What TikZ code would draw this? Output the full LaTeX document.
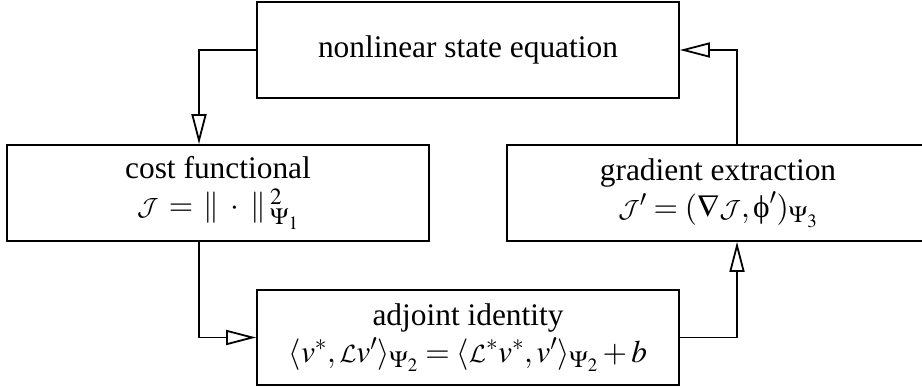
\documentclass[tikz,border=0pt]{standalone}
\usepackage{mathptmx}
\DeclareSymbolFont{cmcal}{OMS}{cmsy}{m}{n}
\DeclareSymbolFontAlphabet{\mathcal}{cmcal}
\usepackage[no-math]{fontspec}
\setmainfont{Liberation Serif}
\usetikzlibrary{arrows.meta}
\newcommand{\uphi}{\mbox{ϕ}}
\tikzset{
  box/.style={draw, line width=1.8pt, rectangle, minimum width=422pt, minimum height=96pt,
    align=center, inner sep=0pt, font=\fontsize{31.4}{37}\selectfont},
  conn/.style={line width=1.8pt, -{Triangle[open, length=30pt, width=15pt, line width=1.8pt]}}
}
\begin{document}
\begin{tikzpicture}[x=1pt,y=-1pt]
\useasboundingbox (0,0) rectangle (922,387);
\node[box] (top) at (468,50) {nonlinear state equation};
\node[box] (cost) at (218,193) {cost functional\\$\mathcal{J}\,=\,\|\;\cdot\;\|\,^2_{\Psi_1}$};
\node[box] (grad) at (718,193) {gradient extraction\\$\mathcal{J}'=(\nabla\mathcal{J},\uphi')_{\Psi_3}$};
\node[box, minimum height=95pt] (adj) at (468,337.5) {adjoint identity\\$\langle v^*,\mathcal{L}v'\rangle_{\Psi_2}=\langle\mathcal{L}^*v^*,v'\rangle_{\Psi_2}+b$};
\coordinate (xl) at (199,0);
\coordinate (xr) at (737,0);
\draw[conn] (top.west) -| (xl |- cost.north);
\draw[conn] (xl |- cost.south) |- (adj.west);
\draw[conn] (adj.east) -| (xr |- grad.south);
\draw[conn] (xr |- grad.north) |- (top.east);
\end{tikzpicture}
\end{document}
